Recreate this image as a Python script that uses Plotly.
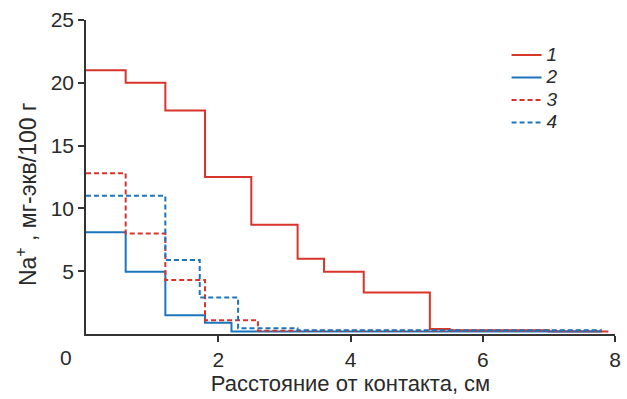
import plotly.graph_objects as go

# Step profiles of exchangeable Na+ versus distance from contact
x_1 = [0, 0.6, 1.2, 1.8, 2.5, 3.2, 3.6, 4.2, 5.2, 5.5, 7.0, 7.9]
y_1 = [21.0, 20.0, 17.8, 12.5, 8.7, 6.0, 4.95, 3.3, 0.4, 0.3, 0.2, 0.2]

x_2 = [0, 0.6, 1.2, 1.8, 2.2, 7.8]
y_2 = [8.1, 4.95, 1.5, 0.9, 0.2, 0.2]

x_3 = [0, 0.6, 1.2, 1.8, 2.6, 7.8]
y_3 = [12.8, 8.0, 4.3, 1.1, 0.25, 0.25]

x_4 = [0, 1.2, 1.72, 2.3, 3.2, 7.8]
y_4 = [11.0, 5.9, 2.9, 0.45, 0.3, 0.3]

series_names = ["1", "2", "3", "4"]
x_ticks = [2, 4, 6, 8]
y_ticks = [5, 10, 15, 20, 25]

RED = "#d9342b"
BLUE = "#1b75bc"
INK = "#2a2a2a"
FAMILY = "Liberation Sans, Arial, sans-serif"

fig = go.Figure()
styles = [(x_1, y_1, RED, "solid"), (x_2, y_2, BLUE, "solid"),
          (x_3, y_3, RED, "5px,3px"), (x_4, y_4, BLUE, "5px,3px")]
for name, (xs, ys, col, dash) in zip(series_names, styles):
    fig.add_trace(go.Scatter(
        x=xs, y=ys, mode="lines",
        name=f'<span style="font-size:19px"><i>{name}</i></span>',
        line=dict(color=col, width=2, dash=dash, shape="hv"),
    ))

tick_font = dict(family=FAMILY, size=21, color=INK)
title_font = dict(family=FAMILY, size=22, color=INK)

fig.update_layout(
    width=627, height=399,
    margin=dict(l=86, r=12, t=20, b=65),
    paper_bgcolor="white", plot_bgcolor="white",
    font=dict(family=FAMILY, size=20, color=INK),
    showlegend=True,
    legend=dict(x=0.795, y=0.94, xanchor="left", yanchor="top",
                bgcolor="rgba(0,0,0,0)", itemwidth=30, tracegroupgap=0,
                font=dict(family=FAMILY, size=15, color=INK)),
    xaxis=dict(range=[0, 8], tickvals=x_ticks, ticktext=[str(v) for v in x_ticks],
               tickfont=tick_font, automargin=False,
               showgrid=False, zeroline=False, showline=True, linecolor="#333", linewidth=1.5,
               ticks="outside", ticklen=6, tickwidth=1.5, tickcolor="#333",
               title=dict(text="Расстояние от контакта, см", standoff=6, font=title_font)),
    yaxis=dict(range=[0, 25], tickvals=y_ticks, ticktext=[str(v) for v in y_ticks],
               tickfont=tick_font, automargin=False,
               showgrid=False, zeroline=False, showline=True, linecolor="#333", linewidth=1.5,
               ticks="outside", ticklen=6, tickwidth=1.5, tickcolor="#333"),
)

# Vertical axis title
fig.add_annotation(x=-0.113, y=0.443, xref="paper", yref="paper",
                   text="Na<sup>+</sup> , мг-экв/100 г", textangle=-90,
                   showarrow=False, xanchor="center", yanchor="middle",
                   font=dict(family=FAMILY, size=23, color=INK))

# Shared origin label
fig.add_annotation(x=0, y=0, xref="x", yref="y", text="0", showarrow=False,
                   xanchor="right", yanchor="top", xshift=-12, yshift=-10,
                   font=tick_font)

fig.write_html("out.html")
